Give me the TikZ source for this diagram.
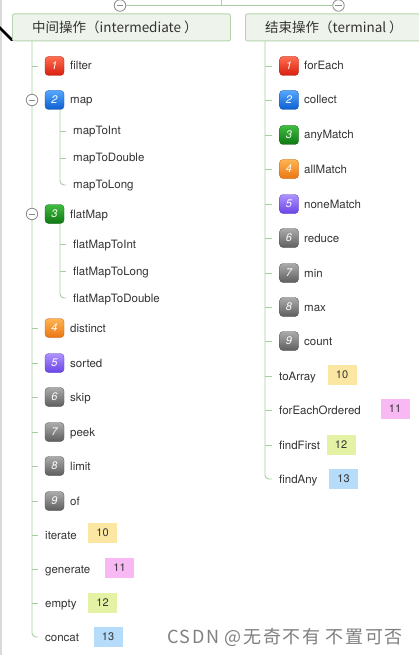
\documentclass[tikz,border=0pt]{standalone}
\usepackage{fontspec}
\setmainfont{TeX Gyre Heros}
\newfontfamily\cjk{Noto Sans CJK SC}
\newfontfamily\cjkwm[LetterSpace=9]{Noto Sans CJK SC}
\definecolor{conn}{HTML}{A6CFA0}
\definecolor{hdrfill}{HTML}{EEF4EB}
\definecolor{hdrdraw}{HTML}{B4D4AC}
\definecolor{redT}{HTML}{FF6E50}\definecolor{redB}{HTML}{D81E0E}
\definecolor{bluT}{HTML}{55A8FF}\definecolor{bluB}{HTML}{0C5ED0}
\definecolor{grnT}{HTML}{40BC40}\definecolor{grnB}{HTML}{0E7812}
\definecolor{orgT}{HTML}{FFB552}\definecolor{orgB}{HTML}{EA7612}
\definecolor{purT}{HTML}{AE92FF}\definecolor{purB}{HTML}{6A44E6}
\definecolor{gryT}{HTML}{ABABAB}\definecolor{gryB}{HTML}{5E5E5E}
\definecolor{tagY}{HTML}{FBE7A2}
\definecolor{tagP}{HTML}{F8B8F3}
\definecolor{tagL}{HTML}{E3F2A4}
\definecolor{tagB}{HTML}{B5DCFA}
\definecolor{txt}{HTML}{333333}
\tikzset{
  cn/.style={draw=conn, line width=0.9pt},
  hdr/.style={draw=hdrdraw, fill=hdrfill, line width=0.9pt, rounded corners=2pt, anchor=north west, inner sep=0pt},
  hdrtext/.style={anchor=west, inner sep=0pt, text height=10pt, text depth=0pt, font=\cjk\fontsize{13.5}{15}\selectfont, text=txt},
  badge/.style n args={2}{rounded corners=3.5pt, minimum width=19pt, minimum height=19pt, inner sep=0pt,
     text=white, font=\fontsize{11}{12}\selectfont\itshape, top color=#1, bottom color=#2, draw=#2!80!black, line width=0.3pt},
  lbl/.style={anchor=west, inner sep=0pt, text height=8pt, text depth=0pt, font=\fontsize{11.5}{13}\selectfont, text=txt},
  tagbox/.style={fill=#1, minimum width=29pt, minimum height=20pt, inner sep=0pt, font=\fontsize{11}{13}\selectfont, text=txt},
  collapse/.style={circle, draw=black!45, fill=white, line width=0.8pt, minimum size=11.5pt, inner sep=0pt,
     path picture={\draw[black!45, line width=0.8pt] ([xshift=2.3pt]path picture bounding box.west) -- ([xshift=-2.3pt]path picture bounding box.east);}},
}
\begin{document}
\begin{tikzpicture}[x=1pt,y=-1pt]
\clip (0,0) rectangle (419,655);
\fill[white] (0,0) rectangle (419,655);
\draw[black!15, line width=1.5pt] (0.75,0) -- (0.75,655);
% top connector
\coordinate (top) at (221,0);
\node[collapse] (cL) at (120,5.5) {};
\node[collapse] (cR) at (338.5,5.5) {};
\draw[cn] (cL.east) -- (cR.west);
\draw[cn] (top) -- (top |- cL);
% black mark
\draw[black, line width=2.6pt, line cap=round] (-1,27) -- (12,40);
% headers
\node[hdr, minimum width=218pt, minimum height=27pt] (hdrL) at (12,13.5) {};
\node[hdrtext] (hdrLt) at (32,27.5) {中间操作（intermediate ）};
\node[hdr, minimum width=190pt, minimum height=27pt] (hdrR) at (245,13.5) {};
\node[hdrtext] (hdrRt) at (265,27.5) {结束操作（terminal ）};
\coordinate (lt) at (32,0);
\coordinate (rt) at (265,0);
\coordinate (sx) at (60,0);
% ===== left items =====
\node[badge={redT}{redB}] (lb1) at (54.5,66) {1};  \node[lbl] (l1) at (70,66) {filter};
\node[badge={bluT}{bluB}] (lb2) at (54.5,100) {2}; \node[lbl] (l2) at (70,100) {map};
\node[lbl] (m1) at (73,131) {mapToInt};
\node[lbl] (m2) at (73,158) {mapToDouble};
\node[lbl] (m3) at (73,185) {mapToLong};
\node[badge={grnT}{grnB}] (lb3) at (54.5,214) {3}; \node[lbl] (l3) at (70,214) {flatMap};
\node[lbl] (f1) at (73,244) {flatMapToInt};
\node[lbl] (f2) at (73,271) {flatMapToLong};
\node[lbl] (f3) at (73,298) {flatMapToDouble};
\node[badge={orgT}{orgB}] (lb4) at (54.5,328) {4}; \node[lbl] (l4) at (70,328) {distinct};
\node[badge={purT}{purB}] (lb5) at (54.5,363) {5}; \node[lbl] (l5) at (70,363) {sorted};
\node[badge={gryT}{gryB}] (lb6) at (54.5,397) {6}; \node[lbl] (l6) at (70,397) {skip};
\node[badge={gryT}{gryB}] (lb7) at (54.5,432) {7}; \node[lbl] (l7) at (70,432) {peek};
\node[badge={gryT}{gryB}] (lb8) at (54.5,466) {8}; \node[lbl] (l8) at (70,466) {limit};
\node[badge={gryT}{gryB}] (lb9) at (54.5,501) {9}; \node[lbl] (l9) at (70,501) {of};
\node[lbl] (l10) at (45,535) {iterate};   \node[tagbox=tagY] (lt10) at (102.5,533) {10};
\node[lbl] (l11) at (45,569) {generate};  \node[tagbox=tagP] (lt11) at (119.5,568) {11};
\node[lbl] (l12) at (45,603) {empty};     \node[tagbox=tagL] (lt12) at (102.5,603) {12};
\node[lbl] (l13) at (45,637) {concat};    \node[tagbox=tagB] (lt13) at (108,637) {13};
% left connectors
\draw[cn, rounded corners=4pt] (hdrL.south -| lt) |- ([xshift=-7pt]l13.west);
\foreach \n in {lb1,lb2,lb3,lb4,lb5,lb6,lb7,lb8,lb9}
  \draw[cn] (lt |- \n) -- ([xshift=-7pt]\n.west);
\foreach \n in {l10,l11,l12}
  \draw[cn] (lt |- \n) -- ([xshift=-7pt]\n.west);
\draw[cn, rounded corners=4pt] (sx |- lb2.south) |- ([xshift=-7pt]m3.west);
\foreach \n in {m1,m2}
  \draw[cn] (sx |- \n) -- ([xshift=-7pt]\n.west);
\draw[cn, rounded corners=4pt] (sx |- lb3.south) |- ([xshift=-7pt]f3.west);
\foreach \n in {f1,f2}
  \draw[cn] (sx |- \n) -- ([xshift=-7pt]\n.west);
\node[collapse] (cmap) at (lt |- lb2) {};
\node[collapse] (cflat) at (lt |- lb3) {};
% ===== right items =====
\node[badge={redT}{redB}] (rb1) at (289,66) {1};  \node[lbl] (r1) at (304,66) {forEach};
\node[badge={bluT}{bluB}] (rb2) at (289,100) {2}; \node[lbl] (r2) at (304,100) {collect};
\node[badge={grnT}{grnB}] (rb3) at (289,135) {3}; \node[lbl] (r3) at (304,135) {anyMatch};
\node[badge={orgT}{orgB}] (rb4) at (289,169) {4}; \node[lbl] (r4) at (304,169) {allMatch};
\node[badge={purT}{purB}] (rb5) at (289,204) {5}; \node[lbl] (r5) at (304,204) {noneMatch};
\node[badge={gryT}{gryB}] (rb6) at (289,238) {6}; \node[lbl] (r6) at (304,238) {reduce};
\node[badge={gryT}{gryB}] (rb7) at (289,273) {7}; \node[lbl] (r7) at (304,273) {min};
\node[badge={gryT}{gryB}] (rb8) at (289,307) {8}; \node[lbl] (r8) at (304,307) {max};
\node[badge={gryT}{gryB}] (rb9) at (289,341) {9}; \node[lbl] (r9) at (304,341) {count};
\node[lbl] (r10) at (279,376) {toArray};         \node[tagbox=tagY] (rt10) at (342,375) {10};
\node[lbl] (r11) at (279,410) {forEachOrdered};  \node[tagbox=tagP] (rt11) at (395,409) {11};
\node[lbl] (r12) at (279,445) {findFirst};       \node[tagbox=tagL] (rt12) at (341,445) {12};
\node[lbl] (r13) at (279,479) {findAny};         \node[tagbox=tagB] (rt13) at (343.5,479) {13};
\draw[cn, rounded corners=4pt] (hdrR.south -| rt) |- ([xshift=-7pt]r13.west);
\foreach \n in {rb1,rb2,rb3,rb4,rb5,rb6,rb7,rb8,rb9}
  \draw[cn] (rt |- \n) -- ([xshift=-7pt]\n.west);
\foreach \n in {r10,r11,r12}
  \draw[cn] (rt |- \n) -- ([xshift=-7pt]\n.west);
% watermark
\node[anchor=west, inner sep=0pt, font=\cjkwm\fontsize{18}{20}\selectfont, text=black!50] (wm) at (167,637) {CSDN @无奇不有 不置可否};
\end{tikzpicture}
\end{document}
